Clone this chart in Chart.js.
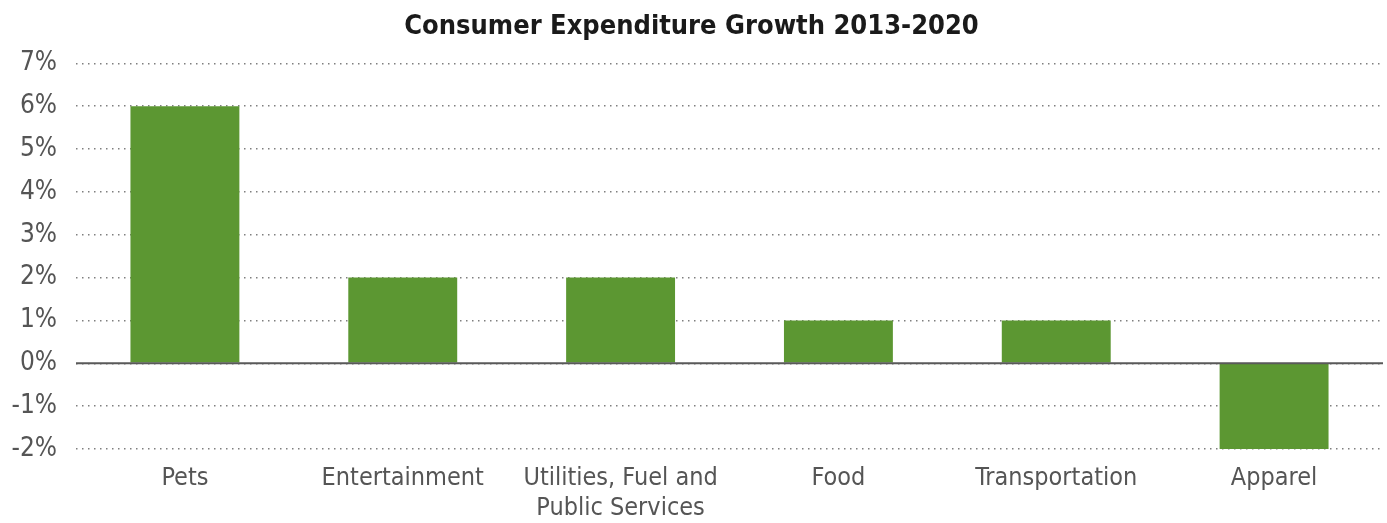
<!DOCTYPE html>
<html>
<head>
<meta charset="utf-8">
<script src="https://cdn.jsdelivr.net/npm/chart.js@4.4.0/dist/chart.umd.min.js"></script>
<style>
  html, body { margin: 0; padding: 0; background: #fff; }
  #wrap { width: 1387px; height: 523px; }
</style>
</head>
<body>
<div id="wrap"><canvas id="chart" width="1387" height="523"></canvas></div>
<script>
// Data
const categories = ['Pets', 'Entertainment', ['Utilities, Fuel and', 'Public Services'], 'Food', 'Transportation', 'Apparel'];
const growth = [6, 2, 2, 1, 1, -2];
const yTicks = [-2, -1, 0, 1, 2, 3, 4, 5, 6, 7];

const FONT = "'Liberation Sans Narrow', 'DejaVu Sans Condensed', 'Roboto', sans-serif";

// solid line at zero, drawn through the y scale
const zeroLine = {
    id: 'zeroLine',
    afterDatasetsDraw(chart) {
        const y = chart.scales.y.getPixelForValue(0);
        const area = chart.chartArea;
        const ctx = chart.ctx;
        ctx.save();
        ctx.strokeStyle = '#595959';
        ctx.lineWidth = 2;
        ctx.beginPath();
        ctx.moveTo(area.left, y);
        ctx.lineTo(area.right, y);
        ctx.stroke();
        ctx.restore();
    }
};

const ctx = document.getElementById('chart').getContext('2d');
new Chart(ctx, {
    type: 'bar',
    data: {
        labels: categories,
        datasets: [{
            data: growth,
            backgroundColor: '#5c9732',
            barPercentage: 0.5,
            categoryPercentage: 1.0
        }]
    },
    options: {
        responsive: false,
        animation: false,
        layout: { padding: { top: 4, right: 4, left: 0, bottom: 0 } },
        plugins: {
            legend: { display: false },
            tooltip: { enabled: false },
            title: {
                display: true,
                text: 'Consumer Expenditure Growth 2013-2020',
                color: '#1a1a1a',
                font: { family: FONT, size: 27, weight: 'bold' },
                padding: { top: 7, bottom: 20 }
            }
        },
        scales: {
            x: {
                grid: { display: false },
                border: { display: false },
                afterFit(scale) { scale.height = 74; },
                ticks: {
                    color: '#555555',
                    font: { family: FONT, size: 25 },
                    padding: 6,
                    maxRotation: 0,
                    autoSkip: false
                }
            },
            y: {
                min: -2,
                max: 7,
                afterBuildTicks(scale) {
                    scale.ticks = yTicks.map(v => ({ value: v }));
                },
                afterFit(scale) { scale.width = 76; },
                grid: {
                    color: '#7f7f7f',
                    lineWidth: 1.5,
                    drawTicks: false
                },
                border: { display: false, dash: [1.5, 4.5] },
                ticks: {
                    color: '#555555',
                    font: { family: FONT, size: 26 },
                    padding: 19,
                    callback: v => v + '%'
                }
            }
        }
    },
    plugins: [zeroLine]
});
</script>
</body>
</html>
